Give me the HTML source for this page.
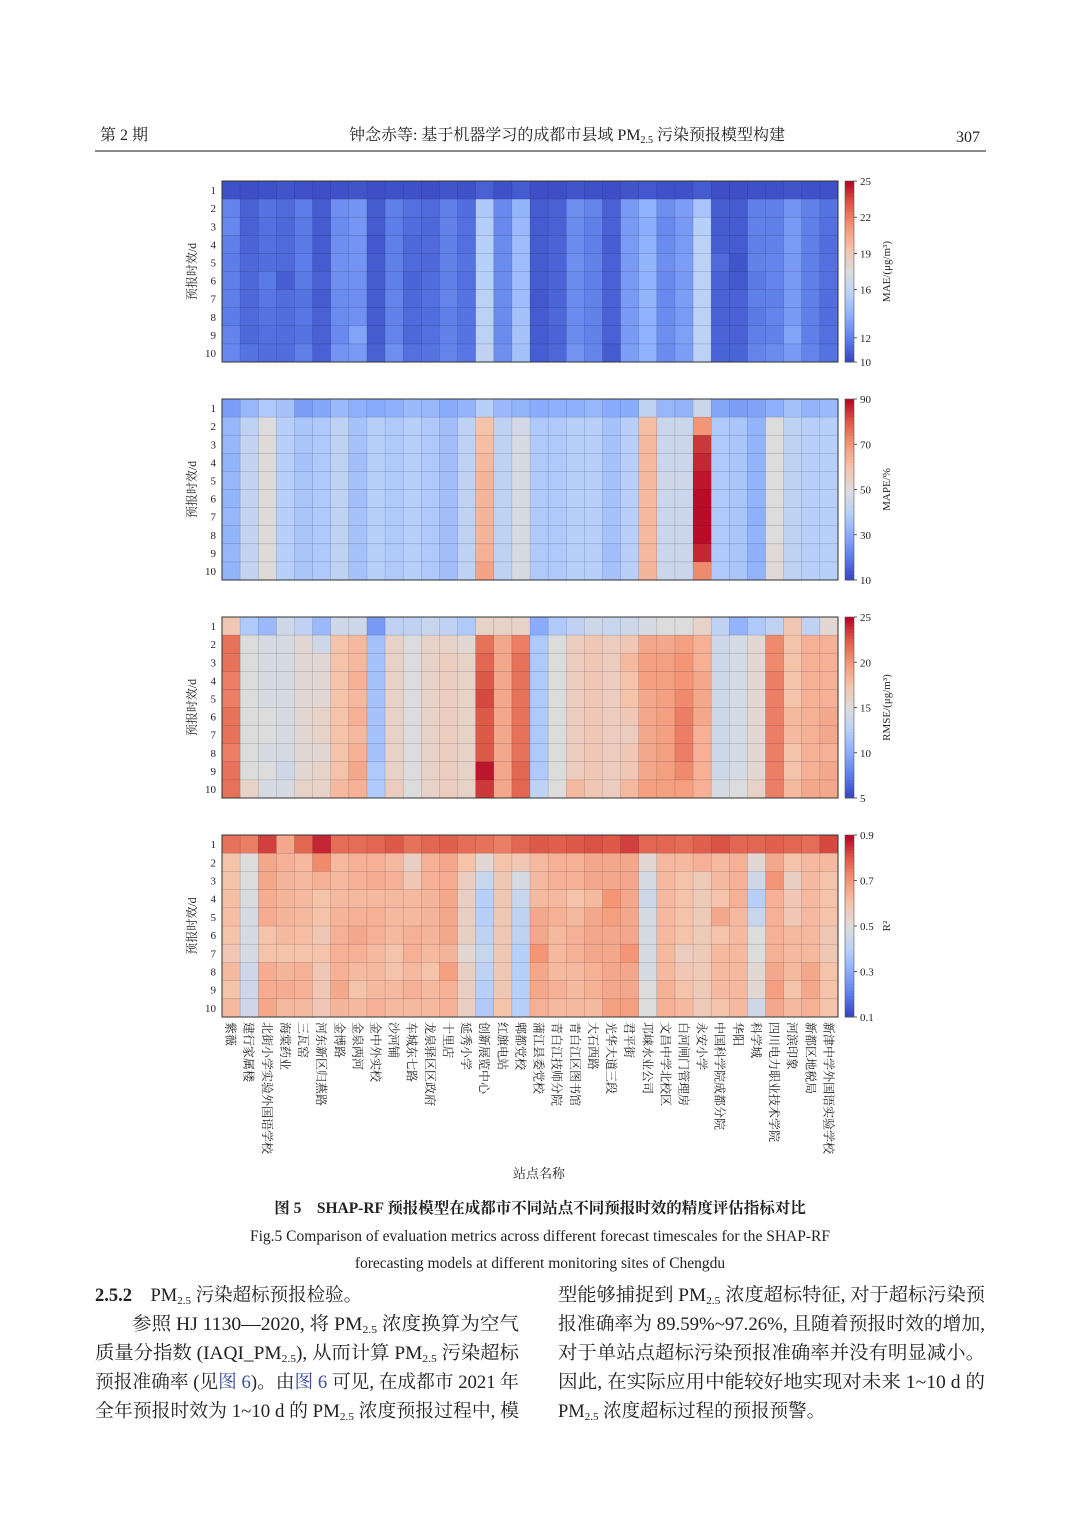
<!DOCTYPE html>
<html><head><meta charset="utf-8">
<style>
html,body{margin:0;padding:0;background:#fff;}
svg{display:block;}
text{font-family:"Liberation Serif","Noto Serif CJK SC","Noto Sans CJK SC",serif;fill:#222;}
</style></head>
<body>
<svg id="page" width="1080" height="1527" viewBox="0 0 1080 1527" xmlns="http://www.w3.org/2000/svg">
<g>
<text x="100" y="140" font-size="16">第 2 期</text>
<text x="567" y="140" font-size="16" text-anchor="middle">钟念赤等: 基于机器学习的成都市县域 PM<tspan font-size="10" dy="3">2.5</tspan><tspan dy="-3"> 污染预报模型构建</tspan></text>
<text x="980" y="142" font-size="16" text-anchor="end">307</text>
<line x1="95" y1="151" x2="986" y2="151" stroke="#444" stroke-width="1.2"/>
</g>
<g id="charts"></g>
<g id="xaxis"></g>
<text x="539" y="1178" font-size="13" text-anchor="middle">站点名称</text>
<g>
<text x="540" y="1213" font-size="15.5" font-weight="bold" text-anchor="middle">图 5　SHAP-RF 预报模型在成都市不同站点不同预报时效的精度评估指标对比</text>
<text x="540" y="1241" font-size="15.5" text-anchor="middle">Fig.5 Comparison of evaluation metrics across different forecast timescales for the SHAP-RF</text>
<text x="540" y="1268" font-size="15.5" text-anchor="middle">forecasting models at different monitoring sites of Chengdu</text>
</g>
<g font-size="18.5">
<text x="95" y="1301"><tspan font-weight="bold">2.5.2</tspan>　PM<tspan font-size="11" dy="3">2.5</tspan><tspan dy="-3"> 污染超标预报检验。</tspan></text>
<text x="132" y="1330" textLength="387" lengthAdjust="spacingAndGlyphs">参照 HJ 1130—2020, 将 PM<tspan font-size="11" dy="3">2.5</tspan><tspan dy="-3"> 浓度换算为空气</tspan></text>
<text x="95" y="1359" textLength="424" lengthAdjust="spacingAndGlyphs">质量分指数 (IAQI_PM<tspan font-size="11" dy="3">2.5</tspan><tspan dy="-3">), 从而计算 PM</tspan><tspan font-size="11" dy="3">2.5</tspan><tspan dy="-3"> 污染超标</tspan></text>
<text x="95" y="1388" textLength="424" lengthAdjust="spacingAndGlyphs">预报准确率 (见<tspan fill="#3b4fa0">图 6</tspan>)。由<tspan fill="#3b4fa0">图 6</tspan> 可见, 在成都市 2021 年</text>
<text x="95" y="1417" textLength="424" lengthAdjust="spacingAndGlyphs">全年预报时效为 1~10 d 的 PM<tspan font-size="11" dy="3">2.5</tspan><tspan dy="-3"> 浓度预报过程中, 模</tspan></text>
</g>
<g font-size="18.5">
<text x="558" y="1301" textLength="427" lengthAdjust="spacingAndGlyphs">型能够捕捉到 PM<tspan font-size="11" dy="3">2.5</tspan><tspan dy="-3"> 浓度超标特征, 对于超标污染预</tspan></text>
<text x="558" y="1330" textLength="427" lengthAdjust="spacingAndGlyphs">报准确率为 89.59%~97.26%, 且随着预报时效的增加,</text>
<text x="558" y="1359" textLength="427" lengthAdjust="spacingAndGlyphs">对于单站点超标污染预报准确率并没有明显减小。</text>
<text x="558" y="1388" textLength="427" lengthAdjust="spacingAndGlyphs">因此, 在实际应用中能较好地实现对未来 1~10 d 的</text>
<text x="558" y="1417">PM<tspan font-size="11" dy="3">2.5</tspan><tspan dy="-3"> 浓度超标过程的预报预警。</tspan></text>
</g>
</svg>
<script>
const stations = ["紫薇","建行家属楼","北街小学实验外国语学校","海棠药业","三瓦窑","河东新区归燕路","金博路","金泉两河","金中外实校","沙河铺","车城东七路","龙泉驿区区政府","十里店","延秀小学","创新展览中心","红旗电站","郫都党校","蒲江县委党校","青白江技师分院","青白江区图书馆","大石西路","光华大道三段","君平街","邛崃水业公司","文昌中学北校区","白河闸门管理房","永安小学","中国科学院成都分院","华阳","科学城","四川电力职业技术学院","河滨印象","新都区地税局","新津中学外国语实验学校"];
const leadDays = [1,2,3,4,5,6,7,8,9,10];

const maeTicks = [10,12,16,19,22,25];
const maeRows = [
[10.5,10.4,10.5,10.6,10.5,10.4,10.5,10.6,10.4,10.5,10.5,10.4,10.6,10.5,11.0,10.5,10.8,10.4,10.4,10.6,10.5,10.4,10.6,10.7,10.5,10.5,10.8,10.4,10.4,10.5,10.5,10.6,10.5,10.5],
[12.2,11.0,11.6,11.3,11.9,10.8,12.6,12.8,10.8,12.0,11.5,11.3,12.0,11.4,15.2,12.4,14.2,10.8,11.0,12.6,12.2,11.0,13.0,14.0,12.6,13.2,15.0,10.9,10.8,12.0,12.0,12.8,12.1,11.6],
[12.3,11.0,11.5,11.2,11.8,10.8,12.5,12.9,10.8,11.9,11.4,11.2,12.1,11.5,15.5,12.4,14.5,10.8,11.0,12.5,12.0,11.0,13.0,13.8,12.4,13.0,15.6,10.8,10.8,12.1,12.0,13.0,12.0,11.5],
[12.0,11.1,11.5,11.3,11.8,10.8,12.6,12.8,10.7,12.0,11.2,11.3,12.0,11.5,15.6,12.5,14.6,10.8,11.1,12.5,12.0,10.9,13.1,14.0,12.5,13.1,15.8,10.9,10.8,12.0,12.1,13.1,12.0,11.4],
[11.9,11.2,11.4,11.3,11.9,10.8,12.7,12.8,10.8,12.0,11.3,11.2,12.1,11.6,15.6,12.5,14.6,10.8,11.1,12.6,12.1,11.0,13.0,14.2,12.6,13.2,15.8,11.3,10.6,12.1,12.2,13.0,12.0,11.5],
[12.0,11.2,11.8,10.9,11.8,11.0,12.6,12.7,10.8,12.0,11.1,11.4,12.0,11.5,15.6,12.5,14.6,10.8,11.1,12.5,12.0,11.0,13.0,14.0,12.4,13.0,15.8,11.0,10.7,11.8,12.2,13.0,12.0,11.5],
[12.0,11.2,11.7,11.4,11.6,10.8,12.5,12.6,10.8,12.2,11.2,11.5,12.2,11.6,15.8,12.5,14.6,10.7,11.1,12.5,12.1,11.0,13.0,14.1,12.4,13.2,15.8,11.0,11.0,12.0,12.0,13.0,12.0,11.4],
[11.9,11.3,11.6,11.4,11.7,11.0,12.5,12.7,10.8,12.1,11.3,11.4,12.0,11.6,15.8,12.5,14.8,10.8,11.2,12.5,12.1,11.0,13.0,14.0,12.5,13.1,15.8,11.0,11.0,11.8,12.2,13.0,12.0,11.4],
[12.2,11.2,11.5,11.4,11.6,11.0,12.4,13.4,10.8,12.2,11.2,11.5,12.1,11.6,15.8,12.5,14.9,10.8,11.1,12.5,12.1,11.0,13.0,14.0,12.6,13.3,15.9,11.1,11.0,12.0,12.1,13.4,12.0,11.5],
[12.3,11.6,11.4,11.4,12.0,11.0,12.8,13.0,11.0,12.6,11.5,11.6,12.2,11.7,16.0,12.6,14.8,10.9,11.2,12.8,12.2,10.8,13.2,14.0,12.5,13.2,15.8,11.1,11.1,12.2,12.5,13.0,12.2,11.6]];

const mapeTicks = [10,30,50,70,90];
const mapeRows = [
[27,33,38,36,27,29,34,31,30,31,34,33,30,32,40,34,32,30,31,31,33,30,30,42,33,32,45,29,27,28,31,36,32,34],
[33,42,50,40,37,38,42,36,40,38,40,38,35,42,60,42,47,38,38,40,40,36,40,61,45,45,70,38,37,32,50,42,40,40],
[33,43,51,40,37,38,42,36,40,38,40,38,35,42,61,42,48,38,38,40,40,36,40,62,45,45,84,38,37,32,50,42,40,40],
[32,43,51,40,36,38,42,35,40,38,40,38,35,42,62,42,48,38,38,40,40,36,40,62,45,45,86,38,37,32,50,42,40,40],
[33,43,51,40,37,38,42,36,40,38,40,38,35,42,63,42,48,38,38,40,40,36,40,62,46,46,88,38,37,32,50,42,40,40],
[32,43,51,40,37,38,42,35,40,38,40,38,35,42,63,42,48,38,38,40,40,36,40,62,45,45,89,38,37,32,50,42,40,40],
[33,43,51,40,37,38,42,36,40,38,40,38,35,42,63,42,48,38,38,40,40,36,40,62,45,45,89,38,37,31,50,42,40,40],
[32,43,51,40,37,38,42,36,40,38,40,38,35,42,63,42,48,38,38,40,40,36,40,62,45,45,89,38,37,32,50,42,40,40],
[33,43,51,40,37,38,42,36,40,38,40,38,35,42,64,42,48,38,38,40,40,35,40,62,45,45,86,38,37,31,51,42,40,40],
[32,43,51,40,37,38,42,36,40,38,40,38,35,42,67,42,48,38,38,40,40,36,40,63,45,45,72,38,37,32,51,42,40,40]];

const rmseTicks = [5,10,15,20,25];
const rmseRows = [
[17.0,12.0,11.0,14.0,13.0,11.0,14.0,14.0,9.0,13.0,13.0,13.5,13.0,12.0,16.0,16.0,16.0,10.0,12.0,13.0,14.0,13.5,14.0,14.5,15.0,15.0,16.0,13.0,10.5,12.0,13.0,17.0,13.0,15.5],
[21.5,15.0,14.5,14.5,15.5,14.0,17.5,18.0,11.5,16.0,15.0,16.0,16.0,15.5,21.5,19.0,21.0,12.0,15.0,16.5,17.0,16.5,17.0,19.0,19.0,19.5,18.5,14.0,14.5,15.5,20.5,17.5,18.5,18.5],
[21.5,15.0,14.5,14.5,15.5,15.5,17.5,18.0,11.5,16.0,15.0,16.0,16.5,16.0,22.0,19.0,21.5,12.0,15.0,16.5,17.0,16.5,18.0,19.5,19.5,20.0,18.5,14.0,14.5,15.5,20.5,17.5,18.5,18.5],
[21.0,15.0,14.5,14.5,15.5,15.5,17.5,18.5,11.5,16.0,15.0,16.0,16.5,16.0,22.5,19.0,21.5,12.0,15.0,16.5,17.0,16.5,17.5,19.5,19.5,20.0,19.0,14.0,14.5,15.5,21.0,17.5,18.5,18.5],
[21.0,15.0,14.5,14.5,15.5,15.5,17.5,18.0,11.5,16.0,15.0,16.0,16.5,16.0,23.0,19.0,21.5,12.0,15.0,16.5,17.0,16.5,17.5,19.0,19.5,20.5,19.0,14.0,14.5,15.5,21.0,17.5,18.5,18.5],
[21.5,15.0,15.0,14.5,15.5,16.0,17.5,18.5,11.5,16.0,15.0,16.0,16.5,16.0,22.5,19.0,21.5,12.0,15.0,16.5,17.0,16.5,17.0,19.0,19.5,21.0,19.0,14.0,14.5,15.5,21.0,18.0,18.5,19.0],
[21.5,15.0,15.0,14.5,15.5,16.0,17.5,18.0,11.5,16.0,15.0,16.0,16.5,16.0,22.5,19.0,21.5,12.0,15.0,16.5,17.0,16.5,16.5,19.0,19.5,21.0,18.5,14.0,14.5,15.5,21.0,18.0,18.5,19.0],
[21.0,15.0,14.5,14.5,15.5,15.5,17.5,18.5,11.5,16.0,15.0,16.0,16.5,16.0,22.5,19.0,21.5,12.0,15.0,16.5,17.0,16.5,17.0,19.0,19.5,21.0,18.5,14.0,14.5,15.5,21.0,17.5,18.5,18.5],
[21.5,15.0,15.0,14.0,15.5,16.0,17.5,19.0,12.0,16.0,15.0,16.0,16.5,16.0,24.5,19.0,22.0,12.0,15.0,16.5,17.0,16.5,17.0,19.0,19.5,20.5,18.5,14.0,14.5,15.5,21.0,17.5,18.5,19.0],
[21.5,16.0,14.5,14.5,16.0,16.0,18.0,18.5,12.0,16.5,15.0,16.0,16.5,16.0,23.5,19.0,22.0,13.0,15.0,18.0,17.0,16.5,18.0,19.5,19.5,19.5,18.5,14.5,15.0,16.0,21.0,18.0,19.0,19.0]];

const r2Ticks = [0.1,0.3,0.5,0.7,0.9];
const r2Rows = [
[0.76,0.74,0.83,0.66,0.78,0.86,0.77,0.77,0.78,0.80,0.76,0.78,0.79,0.77,0.76,0.74,0.78,0.80,0.79,0.80,0.81,0.80,0.83,0.78,0.78,0.77,0.79,0.81,0.78,0.78,0.79,0.78,0.77,0.82],
[0.60,0.50,0.66,0.64,0.62,0.72,0.62,0.64,0.64,0.62,0.55,0.64,0.66,0.60,0.52,0.60,0.58,0.62,0.64,0.64,0.66,0.66,0.66,0.52,0.62,0.62,0.64,0.62,0.64,0.52,0.66,0.60,0.62,0.62],
[0.60,0.50,0.66,0.63,0.62,0.64,0.62,0.64,0.65,0.64,0.58,0.64,0.65,0.56,0.44,0.58,0.48,0.62,0.64,0.64,0.66,0.66,0.66,0.48,0.62,0.60,0.57,0.62,0.64,0.46,0.70,0.55,0.62,0.60],
[0.61,0.49,0.65,0.63,0.62,0.60,0.62,0.62,0.62,0.62,0.62,0.63,0.66,0.55,0.40,0.58,0.44,0.62,0.62,0.60,0.62,0.70,0.66,0.46,0.62,0.60,0.57,0.60,0.64,0.40,0.64,0.58,0.62,0.60],
[0.61,0.48,0.65,0.63,0.62,0.60,0.63,0.64,0.64,0.62,0.62,0.63,0.66,0.55,0.40,0.58,0.42,0.66,0.64,0.62,0.66,0.68,0.66,0.48,0.62,0.60,0.57,0.66,0.62,0.44,0.64,0.58,0.62,0.60],
[0.60,0.48,0.60,0.62,0.61,0.58,0.64,0.66,0.64,0.62,0.64,0.63,0.66,0.55,0.42,0.58,0.42,0.66,0.62,0.64,0.66,0.66,0.66,0.48,0.62,0.60,0.57,0.60,0.62,0.50,0.64,0.62,0.62,0.58],
[0.58,0.48,0.60,0.60,0.60,0.60,0.64,0.64,0.62,0.60,0.64,0.62,0.63,0.52,0.44,0.58,0.40,0.70,0.62,0.64,0.66,0.66,0.70,0.48,0.62,0.56,0.57,0.62,0.62,0.50,0.64,0.62,0.62,0.58],
[0.62,0.46,0.65,0.63,0.64,0.58,0.64,0.62,0.62,0.60,0.62,0.60,0.68,0.55,0.42,0.58,0.40,0.66,0.62,0.62,0.64,0.66,0.66,0.48,0.62,0.58,0.57,0.62,0.62,0.52,0.66,0.62,0.66,0.60],
[0.60,0.46,0.65,0.65,0.64,0.58,0.66,0.60,0.62,0.62,0.64,0.62,0.64,0.55,0.40,0.58,0.40,0.66,0.64,0.62,0.64,0.66,0.66,0.50,0.64,0.60,0.57,0.62,0.62,0.52,0.68,0.60,0.66,0.60],
[0.62,0.46,0.66,0.62,0.62,0.58,0.63,0.62,0.64,0.62,0.62,0.62,0.64,0.55,0.38,0.60,0.40,0.64,0.62,0.62,0.62,0.68,0.68,0.50,0.64,0.62,0.57,0.60,0.62,0.46,0.66,0.62,0.64,0.60]];

const stops=[[52,66,190],[92,124,232],[138,172,252],[184,208,249],[221,220,220],[245,194,170],[244,150,118],[222,90,72],[180,4,38]];
function cmap(t){t=Math.max(0,Math.min(1,t));const s=t*8;const i=Math.min(7,Math.floor(s));const f=s-i;const a=stops[i],b=stops[i+1];
return 'rgb('+a.map((v,k)=>Math.round(v+(b[k]-v)*f)).join(',')+')';}

const NS='http://www.w3.org/2000/svg';
const X0=222, X1=838;
function mk(tag,attrs,parent){const e=document.createElementNS(NS,tag);for(const k in attrs)e.setAttribute(k,attrs[k]);parent.appendChild(e);return e;}
const xScale=i=>X0+(X1-X0)*i/stations.length;
const charts=document.getElementById('charts');

const panels=[
{id:'mae',rows:maeRows,ticks:maeTicks,min:10,max:25,y0:181,y1:362,label:'MAE/(μg/m³)'},
{id:'mape',rows:mapeRows,ticks:mapeTicks,min:10,max:90,y0:399,y1:580,label:'MAPE/%'},
{id:'rmse',rows:rmseRows,ticks:rmseTicks,min:5,max:25,y0:617,y1:798,label:'RMSE/(μg/m³)'},
{id:'r2',rows:r2Rows,ticks:r2Ticks,min:0.1,max:0.9,y0:835,y1:1017,label:'R²'}];

panels.forEach(p=>{
  const g=mk('g',{},charts);
  
  
  const yScale=r=>p.y0+(p.y1-p.y0)*r/leadDays.length;
  const norm=v=>(v-p.min)/(p.max-p.min);
  p.rows.forEach((row,r)=>{
    row.forEach((v,c)=>{
      const rc=mk('rect',{x:xScale(c),y:yScale(r),width:xScale(c+1)-xScale(c)+0.3,height:yScale(r+1)-yScale(r)+0.3,fill:cmap(norm(v)),stroke:'rgba(20,20,40,0.25)','stroke-width':0.5},g);
      
      
    });
  });
  const fr=mk('rect',{x:X0,y:p.y0,width:X1-X0,height:p.y1-p.y0,fill:'none',stroke:'#333','stroke-width':1},g);
  
  
  leadDays.forEach((d,r)=>{
    const t=mk('text',{x:216,y:(yScale(r)+yScale(r+1))/2+4,'font-size':11,'text-anchor':'end'},g);
    
    
    t.textContent=d;
  });
  const yl=mk('text',{transform:'translate(196,'+((p.y0+p.y1)/2)+') rotate(-90)','font-size':12,'text-anchor':'middle'},g);
  
  
  yl.textContent='预报时效/d';
  const cb=mk('g',{},g);
  
  
  const N=60;
  for(let k=0;k<N;k++){
    const yy=p.y1-(p.y1-p.y0)*(k+1)/N;
    mk('rect',{x:845,y:yy,width:9,height:(p.y1-p.y0)/N+0.5,fill:cmap((k+0.5)/N)},cb);
  }
  mk('rect',{x:845,y:p.y0,width:9,height:p.y1-p.y0,fill:'none',stroke:'#555','stroke-width':0.6},cb);
  const cy=v=>p.y1-(p.y1-p.y0)*norm(v);
  p.ticks.forEach(v=>{
    mk('line',{x1:854,x2:857,y1:cy(v),y2:cy(v),stroke:'#333','stroke-width':0.8},cb);
    const t=mk('text',{x:860,y:cy(v)+4,'font-size':11},cb);
    
    
    t.textContent=v;
  });
  const cl=mk('text',{transform:'translate(890,'+((p.y0+p.y1)/2)+') rotate(-90)','font-size':11,'text-anchor':'middle'},cb);
  
  
  cl.textContent=p.label;
});

const xa=document.getElementById('xaxis');
stations.forEach((s,i)=>{
  const cx=(xScale(i)+xScale(i+1))/2;
  const t=mk('text',{transform:'translate('+(cx-4.5)+',1022) rotate(90)','font-size':12},xa);
  
  
  t.textContent=s;
});
</script>
</body></html>
